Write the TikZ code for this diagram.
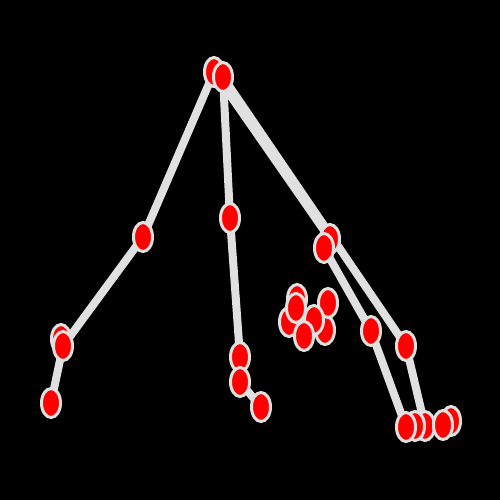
\documentclass[tikz,border=0pt]{standalone}
\usetikzlibrary{shapes.geometric}
\definecolor{edgegray}{HTML}{E0E0E0}
\definecolor{nodered}{HTML}{FF0000}
\tikzset{
  dot/.style={ellipse, fill=nodered, draw=edgegray, line width=3pt, minimum width=19pt, minimum height=29pt, inner sep=0pt},
  link/.style={draw=edgegray, line width=8pt}
}
\begin{document}
\begin{tikzpicture}[x=1pt,y=-1pt]
\fill[black] (0,0) rectangle (500,500);
\useasboundingbox (0,0) rectangle (500,500);
% coordinates
\coordinate (pr1) at (214,72);
\coordinate (pr2) at (223,77);
\coordinate (pL1) at (143,237);
\coordinate (pL2b) at (61,339);
\coordinate (pL2) at (63,346);
\coordinate (pL3) at (51,403);
\coordinate (pM1) at (230,218);
\coordinate (pM2) at (240,357);
\coordinate (pM3) at (240,382);
\coordinate (pM4) at (261,407);
\coordinate (pR1b) at (330,239);
\coordinate (pR1) at (324,248);
\coordinate (pR2) at (371,331);
\coordinate (pR3) at (406,346);
\coordinate (pB2a) at (425,426);
\coordinate (pB2b) at (415,426);
\coordinate (pB1) at (406,427);
\coordinate (pB3b) at (451,421);
\coordinate (pB3) at (443,425);
% edges
\draw[link] (pr1) -- (pL1);
\draw[link] (pL1) -- (pL2);
\draw[link] (pL2) -- (pL3);
\draw[link] (pr2) -- (pM1);
\draw[link] (pM1) -- (pM2);
\draw[link] (pM2) -- (pM3);
\draw[link] (pM3) -- (pM4);
\draw[link] (pr1) -- (pR1b);
\draw[link] (pr2) -- (pR3);
\draw[link] (pR1) -- (pR2);
\draw[link] (pR2) -- (pB1);
\draw[link] (pR3) -- (pB2a);
% nodes
\node[dot] (r1) at (pr1) {};
\node[dot] (r2) at (pr2) {};
\node[dot] (L1) at (pL1) {};
\node[dot] (L2b) at (pL2b) {};
\node[dot] (L2) at (pL2) {};
\node[dot] (L3) at (pL3) {};
\node[dot] (M1) at (pM1) {};
\node[dot] (M2) at (pM2) {};
\node[dot] (M3) at (pM3) {};
\node[dot] (M4) at (pM4) {};
\node[dot] (R1b) at (pR1b) {};
\node[dot] (R1) at (pR1) {};
\node[dot] (R2) at (pR2) {};
\node[dot] (R3) at (pR3) {};
\node[dot] (B2a) at (pB2a) {};
\node[dot] (B2b) at (pB2b) {};
\node[dot] (B1) at (pB1) {};
\node[dot] (B3b) at (pB3b) {};
\node[dot] (B3) at (pB3) {};
% cluster
\node[dot] (C1) at (297,299) {};
\node[dot] (C2) at (289,322) {};
\node[dot] (C3) at (296,308) {};
\node[dot] (C4) at (325,330) {};
\node[dot] (C5) at (328,303) {};
\node[dot] (C6) at (314,320) {};
\node[dot] (C7) at (304,336) {};
\end{tikzpicture}
\end{document}
